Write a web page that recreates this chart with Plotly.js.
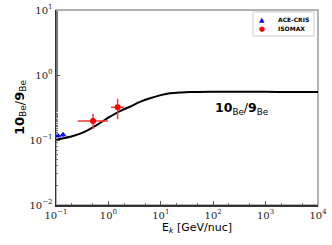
<!DOCTYPE html>
<html><head><meta charset="utf-8">
<script src="https://cdn.plot.ly/plotly-3.0.1.min.js"></script>
<style>html,body{margin:0;padding:0;background:#fff}#c{width:332px;height:245px}</style>
</head><body><div id="c"></div>
<script>
// Model curve
const modelE = [0.1, 0.103, 0.185, 0.332, 0.598, 1.07, 1.66, 2.58, 4.0, 6.22, 10, 15.0, 25, 36, 87, 300, 1000, 3000, 10000];
const modelR = [0.097, 0.100, 0.112, 0.131, 0.170, 0.228, 0.279, 0.325, 0.385, 0.439, 0.49, 0.523, 0.540, 0.547, 0.553, 0.553, 0.551, 0.549, 0.547];
// ACE-CRIS
const aceE = [0.109, 0.136];
const aceR = [0.116, 0.120];
const aceErr = [0.008, 0.008];
// ISOMAX
const isoE = [0.51, 1.50];
const isoR = [0.196, 0.318];
const isoEhi = [0.98, 1.99];
const isoElo = [0.26, 1.12];
const isoRhi = [0.251, 0.43];
const isoRlo = [0.148, 0.209];

const seriesNames = ['ACE-CRIS', 'ISOMAX'];
const xTickVals = [0.1, 1, 10, 100, 1000, 10000];
const xTickText = ['10<sup>−1</sup>','10<sup>0</sup>','10<sup>1</sup>','10<sup>2</sup>','10<sup>3</sup>','10<sup>4</sup>'];
const yTickVals = [0.01, 0.1, 1, 10];
const yTickText = ['10<sup>−2</sup>','10<sup>−1</sup>','10<sup>0</sup>','10<sup>1</sup>'];

const traces = [
  {x: modelE, y: modelR, mode: 'lines', line: {color: '#000', width: 2, shape: 'spline'}, showlegend: false, hoverinfo: 'skip'},
  {x: aceE, y: aceR, mode: 'markers', name: seriesNames[0], showlegend: false,
   marker: {symbol: 'triangle-up', color: '#0000ff', size: 6},
   error_y: {type: 'data', array: aceErr, color: '#0000ff', thickness: 1.2, width: 0}},
  {x: isoE, y: isoR, mode: 'markers', name: seriesNames[1], showlegend: false,
   marker: {symbol: 'circle', color: '#ff0000', size: 6},
   error_x: {type: 'data', symmetric: false, array: isoEhi.map((v,i)=>v-isoE[i]), arrayminus: isoE.map((v,i)=>v-isoElo[i]), color: '#ff3333', thickness: 1.5, width: 0},
   error_y: {type: 'data', symmetric: false, array: isoRhi.map((v,i)=>v-isoR[i]), arrayminus: isoR.map((v,i)=>v-isoRlo[i]), color: '#ff3333', thickness: 1.5, width: 0}}
];

// plot area in px: x 56..318, y 10..205
const px = x => (x - 56) / 262;
const py = y => (205 - y) / 195;

const layout = {
  width: 332, height: 245,
  margin: {l: 56, r: 14, t: 10, b: 40},
  paper_bgcolor: '#fff', plot_bgcolor: '#fff',
  showlegend: false,
  xaxis: {type: 'log', range: [-1, 4], tickvals: xTickVals, ticktext: xTickText,
          tickfont: {family: 'DejaVu Serif', size: 10, color: '#222'},
          ticks: 'inside', ticklen: 4, tickcolor: '#555', showgrid: false, zeroline: false,
          showline: true, linecolor: '#333', linewidth: 1.5,
          minor: {ticks: 'inside', ticklen: 2, tickcolor: '#777', showgrid: false}},
  yaxis: {type: 'log', range: [-2, 1], tickvals: yTickVals, ticktext: yTickText,
          tickfont: {family: 'DejaVu Serif', size: 10, color: '#222'},
          ticks: 'inside', ticklen: 4, tickcolor: '#555', showgrid: false, zeroline: false,
          showline: true, linecolor: '#333', linewidth: 1.5,
          minor: {ticks: 'inside', ticklen: 2, tickcolor: '#777', showgrid: false},
          title: {text: '<b>10</b><sub>Be</sub>/<b>9</b><sub>Be</sub>', font: {family: 'DejaVu Sans', size: 13, color: '#000'}, standoff: 2}},
  shapes: [
    {type: 'rect', xref: 'paper', yref: 'paper', x0: 0, x1: 1, y0: 0, y1: 1, line: {color: '#999', width: 1.5}, layer: 'below'},
    {type: 'rect', xref: 'paper', yref: 'paper', x0: px(253), x1: px(314), y0: py(36), y1: py(12), line: {color: '#ccc', width: 1}, fillcolor: '#fff', layer: 'above'}
  ],
  annotations: [
    {xref: 'x', yref: 'y', x: 3.08, y: Math.log10(0.30), xanchor: 'right', yanchor: 'middle', showarrow: false,
     text: '<b>10</b><sub>Be</sub>/<b>9</b><sub>Be</sub>', font: {family: 'DejaVu Sans', size: 12.5, color: '#000'}},
    {xref: 'paper', yref: 'paper', x: 0.538, y: py(228), xanchor: 'center', yanchor: 'middle', showarrow: false,
     text: 'E<sub><i>k</i></sub> [GeV/nuc]', font: {family: 'DejaVu Sans', size: 11, color: '#000'}},
    {xref: 'paper', yref: 'paper', x: px(262), y: py(19.5), xanchor: 'center', yanchor: 'middle', showarrow: false,
     text: '▲', font: {family: 'DejaVu Sans', size: 7, color: '#0000ff'}},
    {xref: 'paper', yref: 'paper', x: px(262), y: py(29), xanchor: 'center', yanchor: 'middle', showarrow: false,
     text: '●', font: {family: 'DejaVu Sans', size: 7, color: '#ff0000'}},
    {xref: 'paper', yref: 'paper', x: px(276), y: py(19.5), xanchor: 'left', yanchor: 'middle', showarrow: false,
     text: '<b>' + seriesNames[0] + '</b>', font: {family: 'DejaVu Sans', size: 6, color: '#000'}},
    {xref: 'paper', yref: 'paper', x: px(276), y: py(29), xanchor: 'left', yanchor: 'middle', showarrow: false,
     text: '<b>' + seriesNames[1] + '</b>', font: {family: 'DejaVu Sans', size: 6, color: '#000'}}
  ]
};
Plotly.newPlot('c', traces, layout, {displayModeBar: false, staticPlot: true});
</script></body></html>
